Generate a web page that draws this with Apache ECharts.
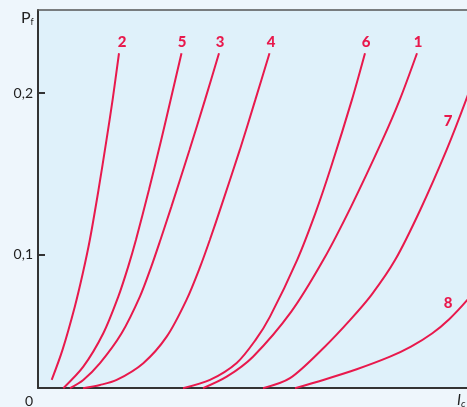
<!DOCTYPE html>
<html><head><meta charset="utf-8">
<script src="https://cdn.jsdelivr.net/npm/echarts@6/dist/echarts.min.js"></script>
<style>html,body{margin:0;padding:0;background:#eef6fc;}#c{width:467px;height:407px;}</style>
</head><body><div id="c"></div>
<script>
// Curve data: [current (arbitrary units), Pf]
const curve1 = [[165,0.0172],[188.7,0.0243],[215,0.0367],[253.3,0.0646],[285.4,0.0967],[313.1,0.1297],[344.5,0.171],[361.7,0.1958],[379,0.2247]];
const curve2 = [[13.7,0.0223],[24.5,0.0409],[36.8,0.0677],[44.8,0.0884],[51.8,0.109],[60.5,0.14],[68.5,0.171],[74.6,0.1958],[81,0.2247]];
const curve3 = [[32,0.0172],[45.3,0.0223],[62,0.0327],[83.6,0.0512],[101.9,0.0739],[113.3,0.0925],[122.4,0.109],[133.4,0.1297],[151.5,0.1648],[167,0.1958],[181,0.2247]];
const curve4 = [[45,0.0172],[62,0.0192],[78.7,0.0223],[105.3,0.0327],[128.7,0.0491],[148.5,0.0719],[162.2,0.0925],[171.8,0.109],[183.1,0.1297],[201.8,0.1648],[217.3,0.1958],[231.5,0.2247]];
const curve5 = [[25.3,0.0172],[45.3,0.0305],[65.3,0.0512],[80.3,0.0739],[90.2,0.0925],[97.9,0.109],[110.9,0.14],[123.2,0.171],[132.6,0.1958],[143.5,0.2247]];
const curve6 = [[145,0.0172],[172,0.0223],[198.7,0.0328],[217.6,0.0471],[232,0.0615],[259.2,0.0967],[277.5,0.1258],[293.2,0.1545],[313.9,0.1958],[327,0.2247]];
const curve7 = [[225,0.0172],[252,0.0234],[286.8,0.0429],[312.2,0.0595],[333.5,0.075],[357.2,0.0967],[382.2,0.1276],[408.6,0.1648],[428.1,0.1958],[440,0.2169]];
const curve8 = [[257,0.0172],[285.3,0.0223],[318.7,0.0289],[352,0.0367],[373,0.0429],[394.4,0.0512],[411.2,0.0599],[428.7,0.0714],[442,0.0818]];
const curveNames = ['1','2','3','4','5','6','7','8'];
const curves = [curve1,curve2,curve3,curve4,curve5,curve6,curve7,curve8];
const yTicks = [0.1, 0.2];
const yMin = 0.0173, yMax = 0.2515, xMin = 0, xMax = 429;

const RED = '#e8194c';
const FONT = 'Lato';
const chart = echarts.init(document.getElementById('c'), null, {renderer:'canvas'});

const labelPos = {'2':[122,42],'5':[182,42],'3':[220,42],'4':[271,42],'6':[366,42],'1':[418,42],'7':[448,121],'8':[448,303]};

const graphics = [];
Object.keys(labelPos).forEach(k => {
  graphics.push({type:'text', x:labelPos[k][0], y:labelPos[k][1], style:{text:k, fill:RED, font:'900 15px '+FONT, textAlign:'center', textVerticalAlign:'middle'}, z:10});
});
graphics.push({type:'text', x:21, y:18, style:{text:'{p|P}{s|f}', rich:{p:{fontSize:16, fontFamily:FONT, fill:'#222', fontWeight:'normal'}, s:{fontSize:9, fontFamily:FONT, fill:'#222', padding:[9,0,0,0]}}, textVerticalAlign:'middle'}, z:10});
graphics.push({type:'text', x:29, y:401, style:{text:'0', font:'14px '+FONT, fill:'#222', textAlign:'center', textVerticalAlign:'middle'}, z:10});
graphics.push({type:'text', x:457, y:400, style:{text:'{i|I}{s|c}', rich:{i:{fontSize:15, fontStyle:'italic', fontFamily:FONT, fill:'#222'}, s:{fontSize:10, fontStyle:'italic', fontFamily:FONT, fill:'#222', padding:[8,0,0,0]}}, textVerticalAlign:'middle'}, z:10});

chart.setOption({
  backgroundColor:'#eef6fc',
  animation:false,
  grid:{left:38, right:0, top:10, bottom:19, show:true, backgroundColor:'#dff1fa', borderWidth:0},
  xAxis:[
    {type:'value', min:xMin, max:xMax, axisLine:{show:true, onZero:false, lineStyle:{color:'#333', width:2}}, axisTick:{show:false}, axisLabel:{show:false}, splitLine:{show:false}},
    {type:'value', position:'top', min:xMin, max:xMax, axisLine:{show:true, onZero:false, lineStyle:{color:'#555', width:1.5}}, axisTick:{show:false}, axisLabel:{show:false}, splitLine:{show:false}}
  ],
  yAxis:{type:'value', min:yMin, max:yMax,
    axisLine:{show:true, onZero:false, lineStyle:{color:'#333', width:2}},
    axisTick:{show:true, inside:true, length:7, customValues:yTicks, lineStyle:{color:'#333', width:2}},
    axisLabel:{show:true, customValues:yTicks, margin:5, fontSize:14, fontFamily:FONT, color:'#222', formatter:v=>String(v).replace('.',',')},
    splitLine:{show:false}},
  graphic:graphics,
  series: curves.map((d,i)=>({type:'line', name:curveNames[i], xAxisIndex:0, data:d, smooth:0.3, showSymbol:false, symbol:'none', lineStyle:{color:RED, width:2}, clip:true}))
});
</script></body></html>
